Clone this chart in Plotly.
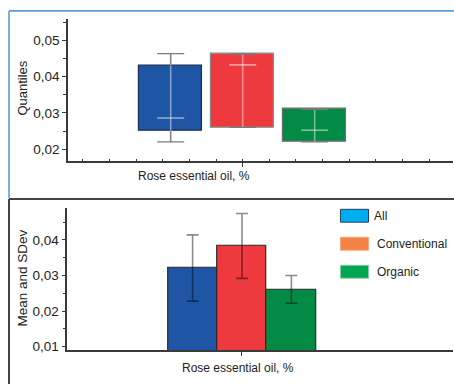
import plotly.graph_objects as go

# ---------------- data ----------------
groups = ["All", "Conventional", "Organic"]
# Quantiles panel
q_low = [0.0220, 0.0260, 0.0220]
q1 = [0.0250, 0.0260, 0.0220]
q_med = [0.0286, 0.0432, 0.0252]
q3 = [0.0430, 0.0462, 0.0310]
q_high = [0.0463, 0.0462, 0.0310]
# Mean and SDev panel
means = [0.0321, 0.0383, 0.0261]
sdevs = [0.0093, 0.0091, 0.0039]

x_title = "Rose essential oil, %"
y_title_top = "Quantiles"
y_title_bot = "Mean and SDev"
top_ticks = [0.02, 0.03, 0.04, 0.05]
bot_ticks = [0.01, 0.02, 0.03, 0.04]

bar_colors = ["#1F55A5", "#EE3A3F", "#038A45"]
bar_lines = ["#1B2C55", "#8C8C8C", "#6E6E6E"]
legend_colors = ["#00ADEE", "#F58243", "#00A651"]
legend_lines = ["#1F3F66", "#F7A57A", "#7FCF9E"]

W, H = 454, 388
FONT = "Liberation Sans, Arial, sans-serif"

pos = [i - 1 for i in range(len(groups))]  # -1, 0, 1

fig = go.Figure()

# ---- top: boxes ----
fig.add_trace(go.Bar(
    x=pos, base=q1, y=[b - a for a, b in zip(q1, q3)], width=0.875,
    marker=dict(color=bar_colors, line=dict(color=bar_lines, width=1.2)),
    xaxis="x", yaxis="y", showlegend=False, hoverinfo="skip"))

cap = 0.1875
for i, c in enumerate(pos):
    # outer whisker segments
    fig.add_trace(go.Scatter(
        x=[c, c, None, c, c], y=[q_low[i], q1[i], None, q3[i], q_high[i]],
        mode="lines", line=dict(color="#858585", width=1.6),
        xaxis="x", yaxis="y", showlegend=False, hoverinfo="skip"))
    # whisker through the box (light)
    fig.add_trace(go.Scatter(
        x=[c, c], y=[q1[i], q3[i]], mode="lines",
        line=dict(color="rgba(255,255,255,0.45)", width=1.6),
        xaxis="x", yaxis="y", showlegend=False, hoverinfo="skip"))
    # caps
    fig.add_trace(go.Scatter(
        x=[c - cap, c + cap, None, c - cap, c + cap],
        y=[q_low[i], q_low[i], None, q_high[i], q_high[i]],
        mode="lines", line=dict(color="#7A7A7A", width=1.4),
        xaxis="x", yaxis="y", showlegend=False, hoverinfo="skip"))
    # median
    fig.add_trace(go.Scatter(
        x=[c - cap, c + cap], y=[q_med[i], q_med[i]], mode="lines",
        line=dict(color="rgba(255,255,255,0.5)", width=1.6),
        xaxis="x", yaxis="y", showlegend=False, hoverinfo="skip"))

# ---- bottom: mean bars ----
fig.add_trace(go.Bar(
    x=pos, y=means, width=1.0,
    marker=dict(color=bar_colors, line=dict(color="#2A2A2A", width=1.2)),
    error_y=dict(type="data", array=sdevs, color="rgba(0,0,0,0.45)",
                 thickness=1.6, width=6),
    xaxis="x2", yaxis="y2", showlegend=False, hoverinfo="skip"))

axis_common = dict(showgrid=False, zeroline=False, showline=True,
                   linecolor="#3A3A3A", linewidth=1.5,
                   tickfont=dict(family=FONT, size=13.5, color="#222"),
                   tickcolor="#3A3A3A")

fig.update_layout(
    width=W, height=H, autosize=False,
    margin=dict(l=0, r=0, t=0, b=0),
    paper_bgcolor="white", plot_bgcolor="white",
    separators=", ",
    bargap=0,
    xaxis=dict(domain=[68 / W, 453 / W], range=[-2.426, 2.921],
               anchor="y", tickvals=[0], ticktext=[""], ticks="outside",
               ticklen=4,
               minor=dict(dtick=0.37, tick0=0, ticks="inside", ticklen=3,
                          tickcolor="#3A3A3A"),
               **axis_common),
    yaxis=dict(domain=[1 - 163 / H, 1 - 19 / H], range=[0.01665, 0.0559],
               anchor="x", tickvals=top_ticks, tickformat=".2f",
               ticks="outside", ticklen=4,
               minor=dict(dtick=0.005, ticks="outside", ticklen=3,
                          tickcolor="#3A3A3A"),
               **axis_common),
    xaxis2=dict(domain=[67.3 / W, 453 / W], range=[-3.536, 4.271],
                anchor="y2", tickvals=[0], ticktext=[""], ticks="outside",
                ticklen=4, **axis_common),
    yaxis2=dict(domain=[1 - 354 / H, 1 - 210 / H], range=[0.00897, 0.049],
                anchor="x2", tickvals=bot_ticks, tickformat=".2f",
                ticks="outside", ticklen=4,
                minor=dict(dtick=0.005, ticks="outside", ticklen=3,
                           tickcolor="#3A3A3A"),
                **axis_common),
)

# panel borders
shapes = [
    dict(type="line", xref="paper", yref="paper", x0=9 / W, x1=1.0,
         y0=1 - 11 / H, y1=1 - 11 / H, line=dict(color="#5A9BD8", width=1.6)),
    dict(type="line", xref="paper", yref="paper", x0=9 / W, x1=9 / W,
         y0=1 - 11 / H, y1=1 - 200 / H, line=dict(color="#5A9BD8", width=1.6)),
    dict(type="line", xref="paper", yref="paper", x0=9 / W, x1=1.0,
         y0=1 - 201 / H, y1=1 - 201 / H, line=dict(color="#444444", width=2)),
    dict(type="line", xref="paper", yref="paper", x0=9 / W, x1=9 / W,
         y0=1 - 201 / H, y1=0, line=dict(color="#444444", width=2)),
]

annotations = [
    dict(text=x_title, xref="paper", yref="paper", x=194 / W, y=1 - 178 / H,
         showarrow=False, xanchor="center", yanchor="middle",
         font=dict(family=FONT, size=12, color="#222")),
    dict(text=x_title, xref="paper", yref="paper", x=238 / W, y=1 - 371.5 / H,
         showarrow=False, xanchor="center", yanchor="middle",
         font=dict(family=FONT, size=12, color="#222")),
    dict(text=y_title_top, xref="paper", yref="paper", x=22.5 / W, y=1 - 89 / H,
         showarrow=False, textangle=-90, xanchor="center", yanchor="middle",
         font=dict(family=FONT, size=13, color="#222")),
    dict(text=y_title_bot, xref="paper", yref="paper", x=22.5 / W, y=1 - 281 / H,
         showarrow=False, textangle=-90, xanchor="center", yanchor="middle",
         font=dict(family=FONT, size=13.5, color="#222")),
]

# legend (drawn as swatches + labels)
for i, name in enumerate(groups):
    top = 211.5 + 28.3 * i
    shapes.append(dict(type="rect", xref="paper", yref="paper",
                       x0=340.5 / W, x1=368.5 / W,
                       y0=1 - top / H, y1=1 - (top + 13) / H,
                       fillcolor=legend_colors[i],
                       line=dict(color=legend_lines[i], width=1)))
    annotations.append(dict(text=name, xref="paper", yref="paper",
                            x=(371.5 if i == 0 else 374.5) / W,
                            y=1 - (top + 7) / H, showarrow=False,
                            xanchor="left", yanchor="middle",
                            font=dict(family=FONT, size=12, color="#222")))

fig.update_layout(shapes=shapes, annotations=annotations)

fig.write_html("out.html",
               config={"displayModeBar": False},
               post_script="document.body.style.margin='0';"
                           "document.body.style.overflow='hidden';")
